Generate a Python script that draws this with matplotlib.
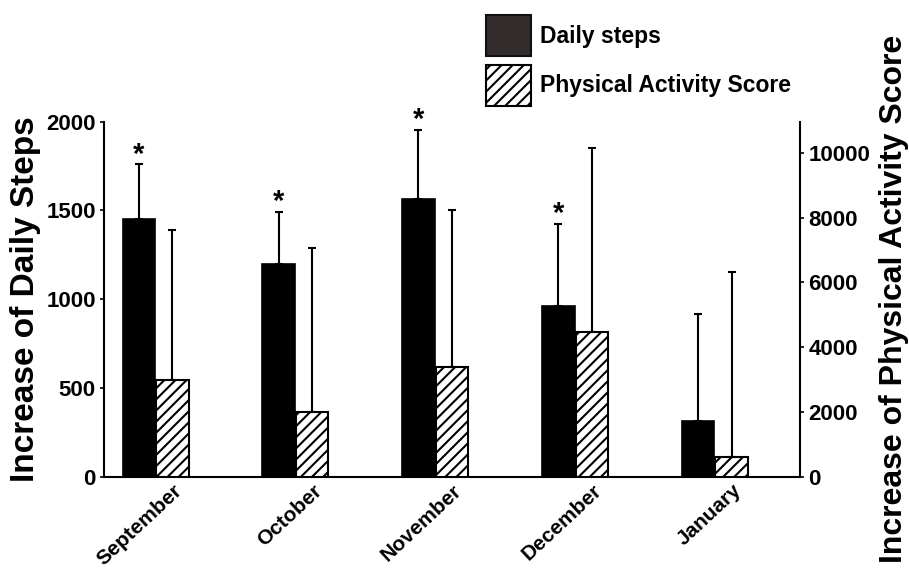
import matplotlib
matplotlib.use("Agg")
import matplotlib.pyplot as plt
import matplotlib.transforms as mtransforms
from matplotlib.patches import Patch
import numpy as np

plt.rcParams['font.family'] = ['Liberation Sans', 'DejaVu Sans']
plt.rcParams['font.weight'] = 'bold'
plt.rcParams['hatch.linewidth'] = 1.5

months = ["September", "October", "November", "December", "January"]
steps = [1450, 1200, 1565, 960, 314]
steps_err = [310, 290, 390, 465, 600]
pas = [3000, 2000, 3400, 4480, 600]
pas_err = [4600, 5050, 4830, 5670, 5730]
significant = [True, True, True, True, False]

fig = plt.figure(figsize=(9.09, 5.71), dpi=100)
ax = fig.add_axes([104/909, 1-476.7/571, (800-104)/909, (476.7-121.7)/571])
ax2 = ax.twinx()

x = np.arange(len(months))
w = 0.233
off = 0.12

ax.bar(x - off, steps, width=w, color='black', edgecolor='black', linewidth=1.2, zorder=2)
ax.errorbar(x - off, steps, yerr=[np.zeros(len(steps)), steps_err], fmt='none',
            ecolor='black', elinewidth=1.5, capsize=3, capthick=1.5, zorder=3)
ax2.bar(x + off, pas, width=w, color='white', edgecolor='black', hatch='///', linewidth=1.5, zorder=2)
ax2.errorbar(x + off, pas, yerr=[np.zeros(len(pas)), pas_err], fmt='none',
             ecolor='black', elinewidth=1.5, capsize=3, capthick=1.5, zorder=3)

for xi, top, sig in zip(x - off, np.array(steps) + np.array(steps_err), significant):
    if sig:
        ax.annotate('*', (xi, top), xytext=(0, -3), textcoords='offset points',
                    ha='center', va='bottom', fontsize=21, fontweight='bold')

ax.set_xlim(-0.369, 4.609)
ax.set_ylim(0, 2000)
ax2.set_ylim(0, 10957)
ax.set_yticks([0, 500, 1000, 1500, 2000])
ax2.set_yticks([0, 2000, 4000, 6000, 8000, 10000])

for a in (ax, ax2):
    a.spines['top'].set_visible(False)
    for s in a.spines.values():
        s.set_linewidth(1.5)
ax.spines['right'].set_visible(False)
ax2.spines['left'].set_visible(False)
ax2.spines['bottom'].set_visible(False)

ax.tick_params(axis='y', length=3, width=1.2, labelsize=16, pad=3)
ax2.tick_params(axis='y', length=3, width=1.2, labelsize=16, pad=3)
ax.set_xticks(x)
ax.set_xticklabels(months, rotation=43, ha='right', va='top', rotation_mode='anchor', fontsize=15)
ax.tick_params(axis='x', length=0, pad=3)
shift = mtransforms.ScaledTranslation(17/100, 0, fig.dpi_scale_trans)
for lbl in ax.get_xticklabels():
    lbl.set_transform(lbl.get_transform() + shift)

ax.set_ylabel('Increase of Daily Steps', fontsize=24, fontweight='bold', labelpad=4)
ax2.set_ylabel('Increase of Physical Activity Score', fontsize=23, fontweight='bold', labelpad=6)

handles = [Patch(facecolor='#322c2c', edgecolor='#111111', linewidth=1.5),
           Patch(facecolor='white', edgecolor='black', hatch='///', linewidth=1.5)]
fig.legend(handles, ['Daily steps', 'Physical Activity Score'], loc='upper left',
           bbox_to_anchor=(486/909, 1-15/571), frameon=False, fontsize=16.5,
           handlelength=1.96, handleheight=2.37, labelspacing=0.39, handletextpad=0.4,
           borderpad=0, borderaxespad=0)

fig.savefig('out.png', dpi=100)
